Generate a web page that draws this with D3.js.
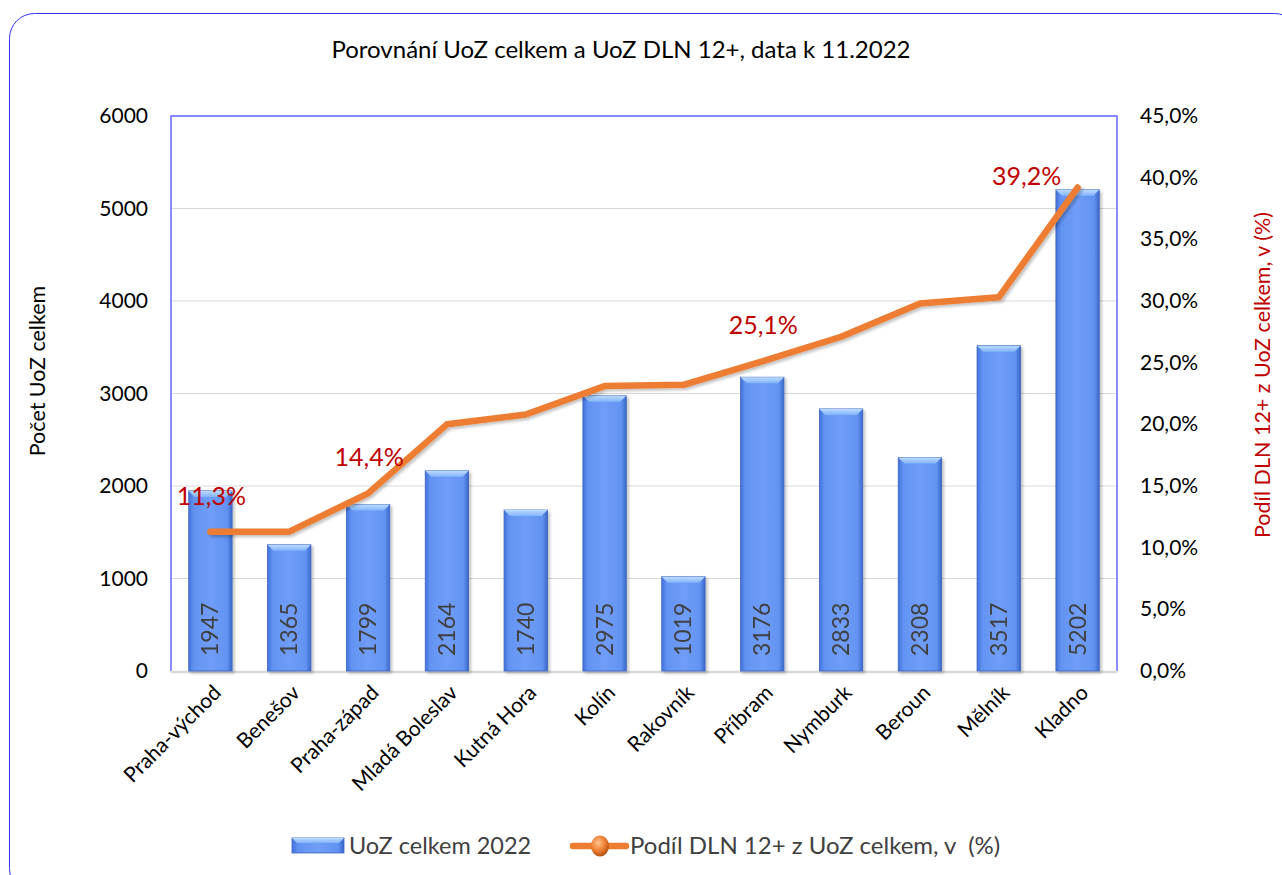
<!DOCTYPE html>
<html>
<head>
<meta charset="UTF-8">
<title>UoZ</title>
<script src="https://cdn.jsdelivr.net/npm/d3@7"></script>
<style>
body { margin: 0; background: #fff; }
svg text { font-family: Lato, "Open Sans", sans-serif; }
</style>
</head>
<body>
<svg width="1282" height="875"></svg>
<script>
var okresy = ["Praha-východ", "Benešov", "Praha-západ", "Mladá Boleslav", "Kutná Hora", "Kolín",
  "Rakovník", "Příbram", "Nymburk", "Beroun", "Mělník", "Kladno"];
var uozCelkem = [1947, 1365, 1799, 2164, 1740, 2975, 1019, 3176, 2833, 2308, 3517, 5202];
var podilDln = [11.3, 11.3, 14.4, 20.0, 20.8, 23.1, 23.2, 25.1, 27.1, 29.8, 30.3, 39.2];
var leftTicks = [0, 1000, 2000, 3000, 4000, 5000, 6000];
var rightTicks = [0, 5, 10, 15, 20, 25, 30, 35, 40, 45];
var shownLabels = [0, 2, 7, 11];

var svg = d3.select("svg");
var pLeft = 171, pRight = 1117, pTop = 116, pBottom = 671;

var x = d3.scaleBand().domain(okresy).range([pLeft, pRight]).paddingInner(0.45).paddingOuter(0.225);
var y = d3.scaleLinear().domain([0, 6000]).range([pBottom, pTop]);
var y2 = d3.scaleLinear().domain([0, 45]).range([pBottom, pTop]);
var fmt = function(v) { return d3.format(".1f")(v).replace(".", ",") + "%"; };

// gradienty pro sloupce
var defs = svg.append("defs");
var g1 = defs.append("linearGradient").attr("id", "barGrad").attr("x1", 0).attr("x2", 1).attr("y1", 0).attr("y2", 0);
g1.append("stop").attr("offset", "0%").attr("stop-color", "#4373dc");
g1.append("stop").attr("offset", "12%").attr("stop-color", "#6393f2");
g1.append("stop").attr("offset", "50%").attr("stop-color", "#6f9df7");
g1.append("stop").attr("offset", "88%").attr("stop-color", "#6393f2");
g1.append("stop").attr("offset", "100%").attr("stop-color", "#3a68cb");
var g2 = defs.append("linearGradient").attr("id", "capGrad").attr("x1", 0).attr("x2", 0).attr("y1", 0).attr("y2", 1);
g2.append("stop").attr("offset", "0%").attr("stop-color", "#bcdcff");
g2.append("stop").attr("offset", "100%").attr("stop-color", "#82b3fb");
var rg = defs.append("radialGradient").attr("id", "ballGrad").attr("cx", "40%").attr("cy", "35%").attr("r", "65%");
rg.append("stop").attr("offset", "0%").attr("stop-color", "#ffc28a");
rg.append("stop").attr("offset", "60%").attr("stop-color", "#ed7d31");
rg.append("stop").attr("offset", "100%").attr("stop-color", "#b65410");
var sh = defs.append("filter").attr("id", "shadow").attr("x", "-20%").attr("y", "-20%").attr("width", "140%").attr("height", "140%");
sh.append("feDropShadow").attr("dx", 2).attr("dy", 2).attr("stdDeviation", 1.5).attr("flood-color", "#000").attr("flood-opacity", 0.25);

// ramecek
svg.append("rect").attr("x", 9.5).attr("y", 13.5).attr("width", 1290).attr("height", 880)
  .attr("rx", 25).attr("fill", "none").attr("stroke", "#3333ee").attr("stroke-width", 1);

svg.append("text").attr("x", 621).attr("y", 58).attr("text-anchor", "middle")
  .attr("font-size", 24).text("Porovnání UoZ celkem a UoZ DLN 12+, data k 11.2022");

// mrizka
svg.append("g").selectAll("line").data(leftTicks.slice(1)).enter().append("line")
  .attr("x1", pLeft).attr("x2", pRight).attr("y1", function(d) { return y(d); }).attr("y2", function(d) { return y(d); })
  .attr("stroke", "#d9d9d9").attr("stroke-width", 1.2);

// okraj plochy grafu
svg.append("path").attr("d", "M" + pLeft + "," + pBottom + "V" + pTop + "H" + pRight + "V" + pBottom)
  .attr("fill", "none").attr("stroke", "#6666ff").attr("stroke-width", 1.5);
svg.append("line").attr("x1", pLeft).attr("x2", pRight).attr("y1", pBottom + 1).attr("y2", pBottom + 1)
  .attr("stroke", "#d9d9d9").attr("stroke-width", 2.5);

// sloupce
var bw = x.bandwidth();
var bars = svg.append("g").selectAll("g").data(okresy).enter().append("g").attr("filter", "url(#shadow)");
bars.append("rect")
  .attr("x", function(d) { return x(d); })
  .attr("y", function(d, i) { return y(uozCelkem[i]); })
  .attr("width", bw)
  .attr("height", function(d, i) { return pBottom - y(uozCelkem[i]); })
  .attr("fill", "url(#barGrad)").attr("stroke", "#3a64c0").attr("stroke-width", 0.8);
bars.append("path")
  .attr("d", function(d, i) {
    var x0 = x(d), y0 = y(uozCelkem[i]), b = 6;
    return "M" + x0 + "," + y0 + "H" + (x0 + bw) + "L" + (x0 + bw - b) + "," + (y0 + b) + "H" + (x0 + b) + "Z";
  })
  .attr("fill", "url(#capGrad)");

bars.append("text")
  .attr("transform", function(d) { return "translate(" + (x(d) + bw / 2 + 8) + "," + (pBottom - 15) + ") rotate(-90)"; })
  .attr("font-size", 23).attr("fill", "#404040")
  .text(function(d, i) { return uozCelkem[i]; });

// cara
var line = d3.line().x(function(d, i) { return x(okresy[i]) + bw / 2; }).y(function(d) { return y2(d); });
svg.append("path").datum(podilDln).attr("d", line).attr("fill", "none")
  .attr("stroke", "#ed7d31").attr("stroke-width", 6.5).attr("stroke-linecap", "round").attr("stroke-linejoin", "round")
  .attr("filter", "url(#shadow)");

svg.append("g").selectAll("text").data(shownLabels).enter().append("text")
  .attr("x", function(i) { return x(okresy[i]) + bw / 2 + (i === okresy.length - 1 ? -51 : 1); })
  .attr("y", function(i) { return y2(podilDln[i]) - (i === okresy.length - 1 ? 3 : 27); })
  .attr("text-anchor", "middle").attr("font-size", 25).attr("fill", "#c00000")
  .text(function(i) { return fmt(podilDln[i]); });

// osy
svg.append("g").selectAll("text").data(leftTicks).enter().append("text")
  .attr("x", 148).attr("y", function(d) { return y(d) + 7; }).attr("text-anchor", "end")
  .attr("font-size", 21).text(function(d) { return d; });
svg.append("g").selectAll("text").data(rightTicks).enter().append("text")
  .attr("x", 1140).attr("y", function(d) { return y2(d) + 7; })
  .attr("font-size", 21).text(function(d) { return fmt(d); });

svg.append("g").selectAll("text").data(okresy).enter().append("text")
  .attr("transform", function(d) { return "translate(" + (x(d) + bw / 2 + 12) + ",694) rotate(-45)"; })
  .attr("text-anchor", "end").attr("font-size", 21).text(function(d) { return d; });

svg.append("text").attr("transform", "translate(45,371) rotate(-90)").attr("text-anchor", "middle")
  .attr("font-size", 21.5).text("Počet UoZ celkem");
svg.append("text").attr("transform", "translate(1270,375) rotate(-90)").attr("text-anchor", "middle")
  .attr("font-size", 21.5).attr("fill", "#c00000").text("Podíl DLN 12+ z UoZ celkem, v (%)");

// legenda
var lg = svg.append("g").attr("transform", "translate(0,846)");
lg.append("rect").attr("x", 292).attr("y", -8).attr("width", 52).attr("height", 15).attr("fill", "url(#barGrad)")
  .attr("stroke", "#3a64c0").attr("stroke-width", 0.8);
lg.append("path").attr("d", "M292,-8H344L339,-3H297Z").attr("fill", "url(#capGrad)");
lg.append("text").attr("x", 349).attr("y", 8).attr("font-size", 23.5).attr("fill", "#404040").text("UoZ celkem 2022");
lg.append("line").attr("x1", 573).attr("x2", 626).attr("y1", 0).attr("y2", 0)
  .attr("stroke", "#ed7d31").attr("stroke-width", 6.5).attr("stroke-linecap", "round");
lg.append("ellipse").attr("cx", 600).attr("cy", 0).attr("rx", 9).attr("ry", 10.5).attr("fill", "url(#ballGrad)");
lg.append("text").attr("x", 630).attr("y", 8).attr("font-size", 24).attr("fill", "#404040")
  .attr("xml:space", "preserve").text("Podíl DLN 12+ z UoZ celkem, v  (%)");
</script>
</body>
</html>
